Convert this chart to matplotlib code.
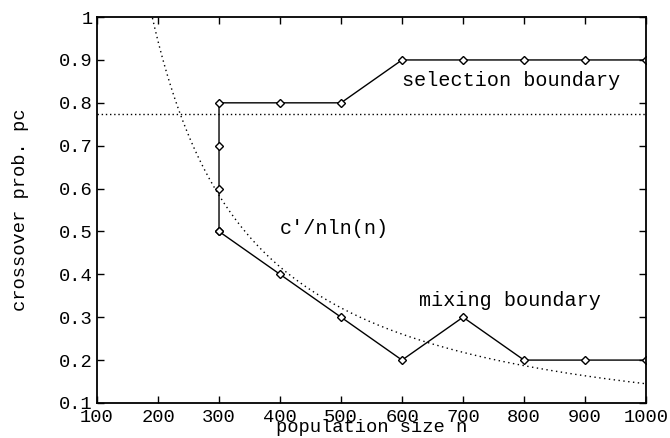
import numpy as np
import matplotlib
matplotlib.use("Agg")
import matplotlib.pyplot as plt

# selection boundary (goes up at n=300, then steps to 0.9)
sel_n = [300, 300, 300, 300, 400, 500, 600, 700, 800, 900, 1000]
sel_pc = [0.5, 0.6, 0.7, 0.8, 0.8, 0.8, 0.9, 0.9, 0.9, 0.9, 0.9]

# mixing boundary
mix_n = [300, 400, 500, 600, 700, 800, 900, 1000]
mix_pc = [0.5, 0.4, 0.3, 0.2, 0.3, 0.2, 0.2, 0.2]

# theory curve c'/(n ln n) and the horizontal drift line
c_prime = 1000.0
drift_level = 0.775

plt.rcParams['font.family'] = ['Liberation Mono', 'DejaVu Sans Mono']
plt.rcParams['font.size'] = 13.5

fig = plt.figure(figsize=(6.7, 4.38), dpi=100)
ax = fig.add_axes([0.1448, 0.080, 0.8194, 0.881])

n = np.linspace(150, 1000, 400)
ax.plot(n, c_prime / (n * np.log(n)), color='black', lw=1.0, ls=(0, (1, 2.5)))
ax.axhline(drift_level, color='black', lw=1.0, ls=(0, (1, 2)))

mk = dict(marker='D', markersize=4, markerfacecolor='white',
          markeredgecolor='black', markeredgewidth=1.0)
ax.plot(sel_n, sel_pc, color='black', lw=1.0, **mk)
ax.plot(mix_n, mix_pc, color='black', lw=1.0, **mk)

ax.text(600, 0.853, 'selection boundary', va='center', ha='left', fontsize=14.5)
ax.text(400, 0.508, "c'/nln(n)", va='center', ha='left', fontsize=14.5)
ax.text(628, 0.340, 'mixing boundary', va='center', ha='left', fontsize=14.5)

ax.set_xlim(100, 1000)
ax.set_ylim(0.1, 1.0)
ax.set_xticks(range(100, 1001, 100))
ax.set_yticks([0.1, 0.2, 0.3, 0.4, 0.5, 0.6, 0.7, 0.8, 0.9, 1.0])
ax.set_yticklabels(['0.1', '0.2', '0.3', '0.4', '0.5', '0.6', '0.7', '0.8', '0.9', '1'])
ax.tick_params(direction='in', length=5, width=1, top=True, right=True, pad=3)
ax.tick_params(axis='x', pad=4)
for s in ax.spines.values():
    s.set_linewidth(1.3)

ax.set_xlabel('population size n', labelpad=-5)
ax.set_ylabel('crossover prob. pc', labelpad=22)

fig.savefig('out.png', dpi=100)
